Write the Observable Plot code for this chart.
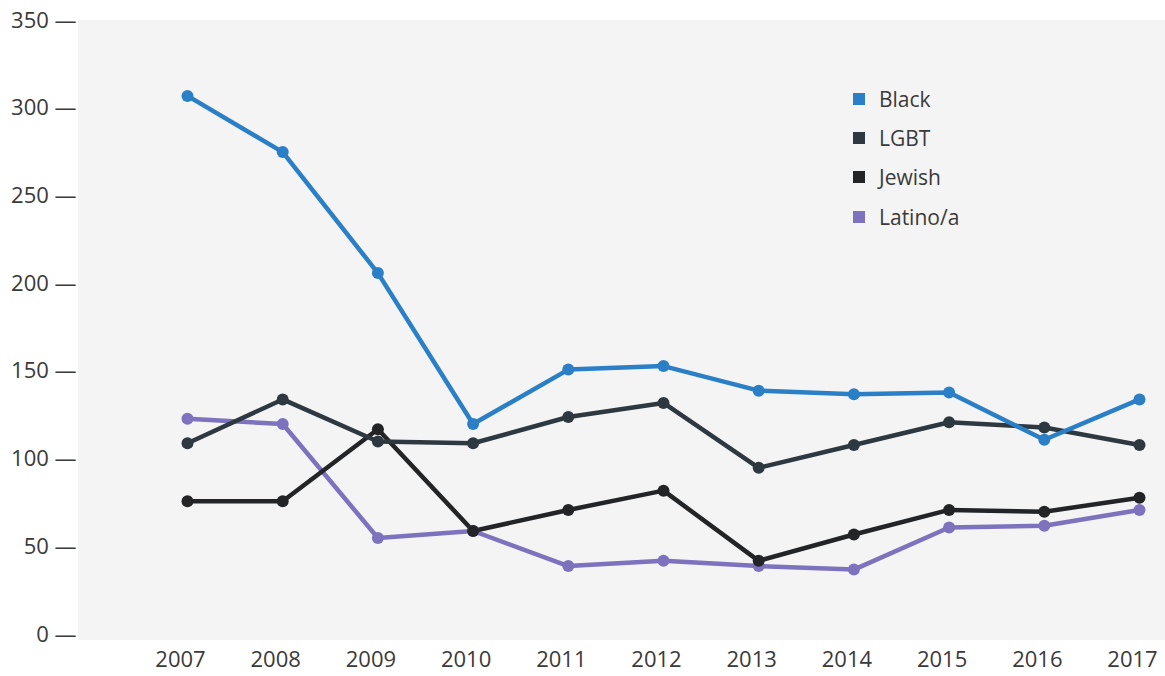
<!DOCTYPE html>
<html>
<head>
<meta charset="utf-8">
<script src="https://cdn.jsdelivr.net/npm/d3@7"></script>
<script src="https://cdn.jsdelivr.net/npm/@observablehq/plot@0.6"></script>
<style>
  html, body { margin: 0; padding: 0; background: #ffffff; }
  #wrap { position: relative; width: 1165px; height: 676px; font-family: "Open Sans", sans-serif; }
  #legend { position: absolute; left: 853px; top: 79px; color: #3a3a3a; font-size: 21px; }
  #legend .row { display: flex; align-items: center; height: 39.3px; }
  #legend .sw { width: 12px; height: 12px; margin-right: 14px; }
</style>
</head>
<body>
<div id="wrap"><div id="legend"></div></div>
<script>
const years = [2007, 2008, 2009, 2010, 2011, 2012, 2013, 2014, 2015, 2016, 2017];
const seriesNames = ["Black", "LGBT", "Jewish", "Latino/a"];
const seriesColors = ["#2a7fc6", "#2e3840", "#222426", "#7d72bd"];
const blackValues  = [307, 275, 206, 120, 151, 153, 139, 137, 138, 111, 134];
const lgbtValues   = [109, 134, 110, 109, 124, 132, 95, 108, 121, 118, 108];
const jewishValues = [76, 76, 117, 59, 71, 82, 42, 57, 71, 70, 78];
const latinoValues = [123, 120, 55, 59, 39, 42, 39, 37, 61, 62, 71];
const yTicks = [0, 50, 100, 150, 200, 250, 300, 350];

const valuesBySeries = {"Black": blackValues, "LGBT": lgbtValues, "Jewish": jewishValues, "Latino/a": latinoValues};
const drawOrder = ["Latino/a", "Jewish", "LGBT", "Black"];
const data = [];
for (const s of drawOrder) {
  years.forEach((y, i) => data.push({year: y, value: valuesBySeries[s][i], series: s}));
}

const chart = Plot.plot({
  width: 1165,
  height: 676,
  marginLeft: 187,
  marginRight: 26,
  marginTop: 20,
  marginBottom: 42,
  style: {fontFamily: "Open Sans, sans-serif", fontSize: "22px", color: "#3a3a3a", background: "transparent"},
  x: {domain: [2007, 2017], label: null},
  y: {domain: [0, 350], label: null},
  color: {domain: seriesNames, range: seriesColors},
  marks: [
    Plot.axisY({ticks: yTicks, tickSize: 0, tickPadding: 111, tickFormat: d => `${d} —`, fontSize: 22}),
    Plot.axisX({ticks: years, tickSize: 0, tickPadding: 17, tickFormat: d => String(d), fontSize: 22, dx: -7}),
    Plot.line(data, {x: "year", y: "value", z: "series", stroke: "series", strokeWidth: 4.5, strokeLinejoin: "round"}),
    Plot.dot(data, {x: "year", y: "value", fill: "series", r: 6})
  ]
});

// light paper-coloured panel behind the plot (decoration)
const svg = d3.select(chart);
svg.insert("rect", ":first-child")
  .attr("x", 78).attr("y", 20).attr("width", 1087).attr("height", 620)
  .attr("fill", "#f4f4f4");

document.getElementById("wrap").prepend(chart);

const legend = d3.select("#legend");
seriesNames.forEach((s, i) => {
  const row = legend.append("div").attr("class", "row");
  row.append("div").attr("class", "sw").style("background", seriesColors[i]);
  row.append("span").text(s);
});
</script>
</body>
</html>
